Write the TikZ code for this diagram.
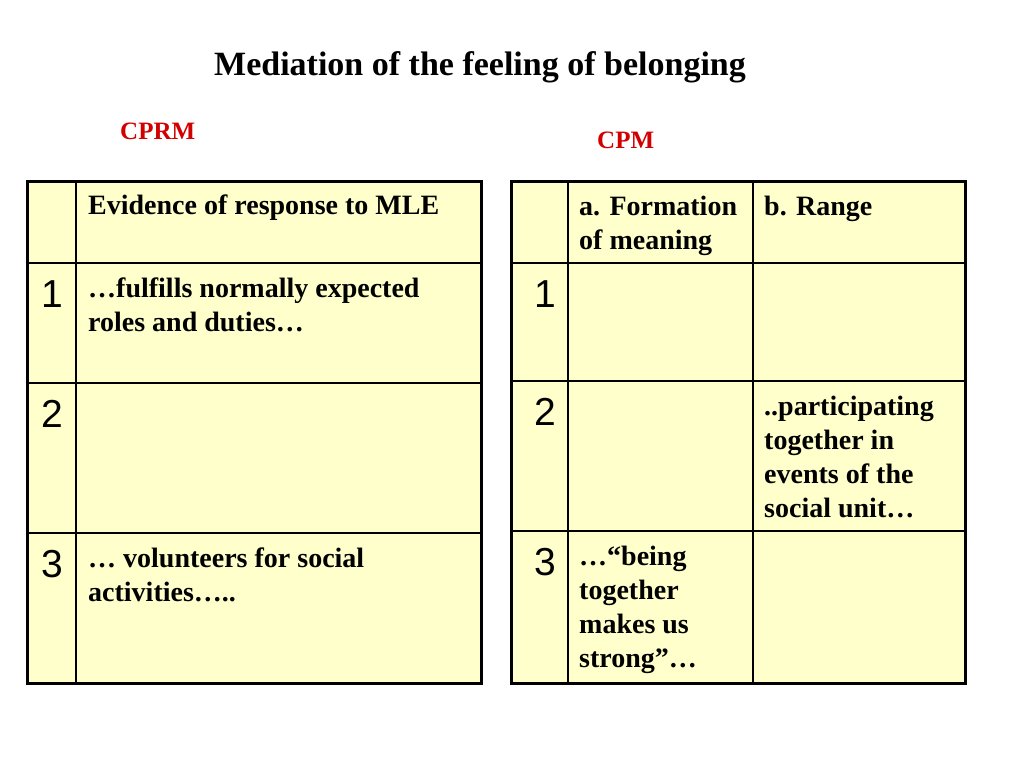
\documentclass[tikz,border=0pt]{standalone}
\usepackage{fontspec}
\setmainfont{Liberation Serif}
\newfontfamily\numfont{Liberation Sans}
\definecolor{cellyellow}{RGB}{255,255,204}
\definecolor{labelred}{RGB}{210,0,0}
\begin{document}
\begin{tikzpicture}[x=1pt,y=-1pt,
  celltext/.style={anchor=north west,inner sep=0pt,align=left,font=\fontsize{28}{34}\selectfont\bfseries},
  numtext/.style={anchor=base,inner sep=0pt,font=\fontsize{39}{39}\selectfont\numfont},
  outer/.style={line width=3pt},
  inner/.style={line width=1.6pt},
  redlabel/.style={anchor=base west,inner sep=0pt,text=labelred,font=\fontsize{25}{25}\selectfont\bfseries}]
\useasboundingbox (0,0) rectangle (1024,768);
\fill[white] (0,0) rectangle (1024,768);
% title and labels
\node[anchor=base,inner sep=0pt,font=\fontsize{34}{34}\selectfont\bfseries] (title) at (480,75) {Mediation of the feeling of belonging};
\node[redlabel] (cprm) at (120,139) {CPRM};
\node[redlabel] (cpm) at (597,148) {CPM};
% left table
\fill[cellyellow] (27,181) rectangle (481,683);
\draw[inner] (76,181) -- (76,683);
\draw[inner] (27,263) -- (481,263);
\draw[inner] (27,383) -- (481,383);
\draw[inner] (27,533) -- (481,533);
\draw[outer] (27,181) rectangle (481,683);
% text: baseline = top + 23.8
\node[celltext] (lh) at (88,190.2) {\strut Evidence of response to MLE};
\node[numtext] (l1) at (52,307) {1};
\node[numtext] (l2) at (52,427) {2};
\node[numtext] (l3) at (52,577) {3};
\node[celltext] (lr1) at (88,273.2) {\strut …fulfills normally expected\\roles and duties…};
\node[celltext] (lr3) at (88,543.2) {\strut … volunteers for social\\activities…..};
% right table
\fill[cellyellow] (511,181) rectangle (965,683);
\draw[inner] (568,181) -- (568,683);
\draw[inner] (753,181) -- (753,683);
\draw[inner] (511,263) -- (965,263);
\draw[inner] (511,381) -- (965,381);
\draw[inner] (511,531) -- (965,531);
\draw[outer] (511,181) rectangle (965,683);
\node[celltext] (ra) at (579,191.2) {\strut a. Formation\\of meaning};
\node[celltext] (rb) at (764,191.2) {\strut b. Range};
\node[numtext] (r1) at (545,307) {1};
\node[numtext] (r2) at (545,425) {2};
\node[numtext] (r3) at (545,575) {3};
\node[celltext] (rb2) at (764,391.2) {\strut ..participating\\together in\\events of the\\social unit…};
\node[celltext] (ra3) at (579,541.2) {\strut …“being\\together\\makes us\\strong”…};
\end{tikzpicture}
\end{document}
